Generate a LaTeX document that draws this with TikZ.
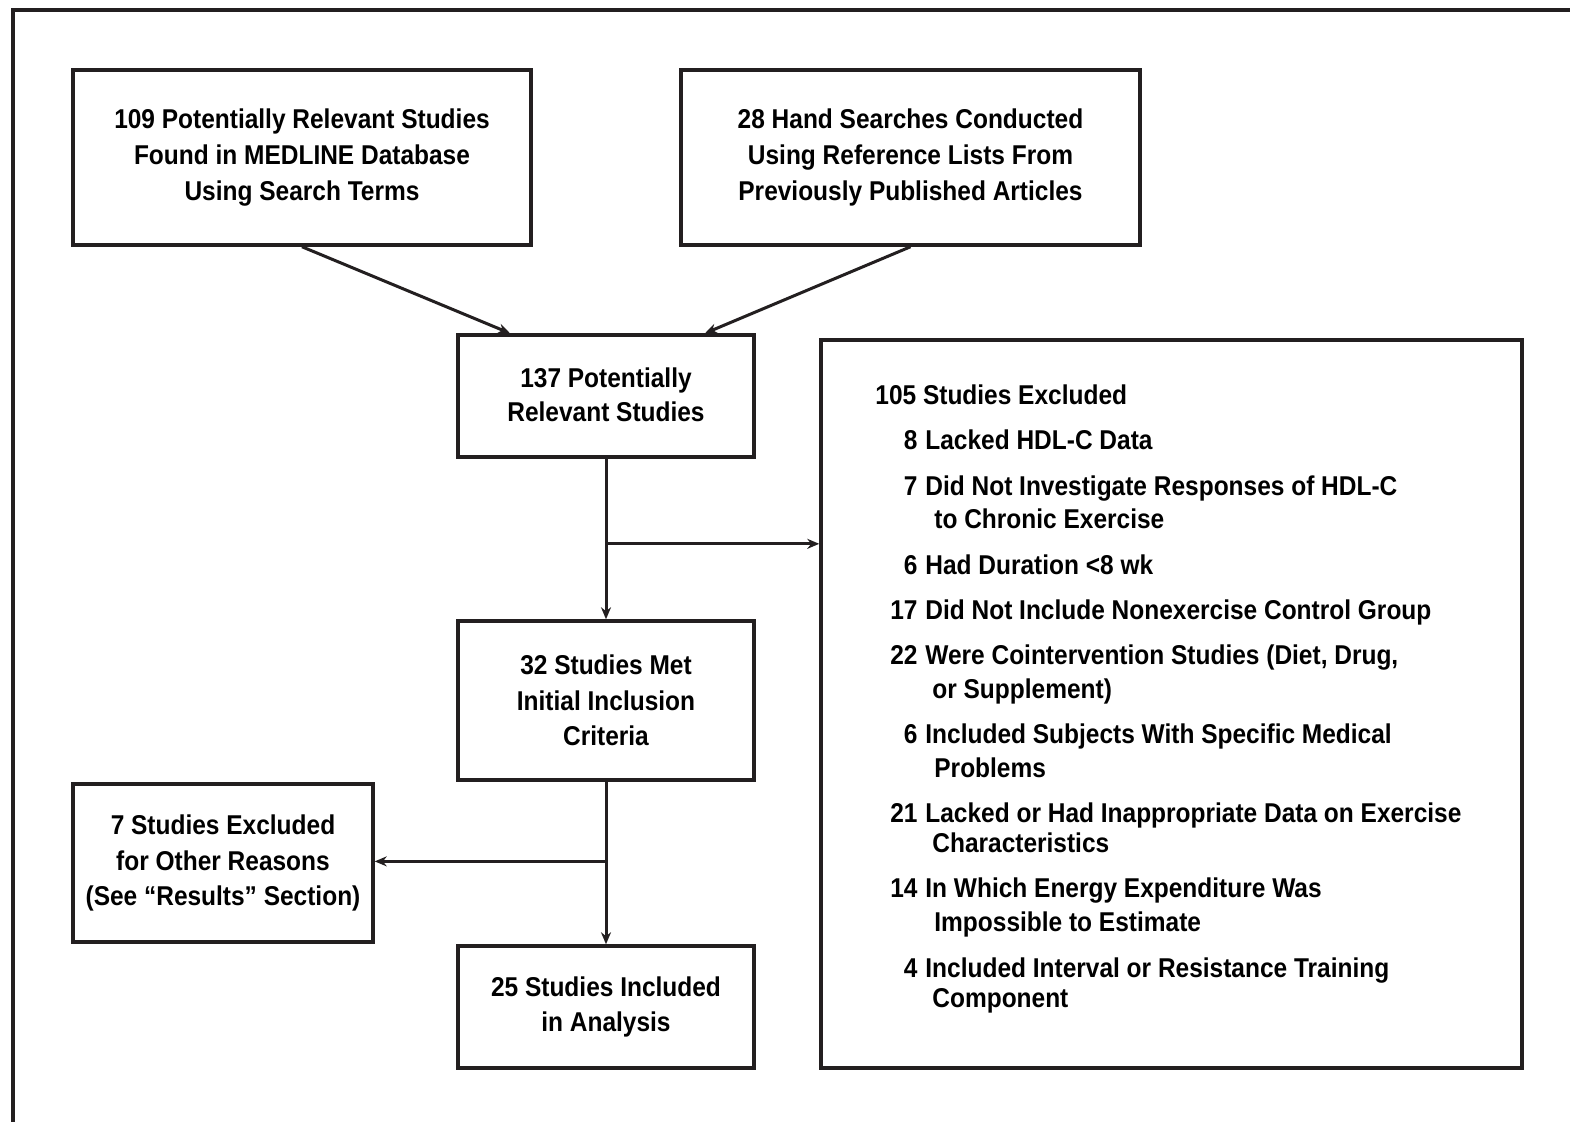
\documentclass[tikz,border=0pt]{standalone}
\usepackage{fontspec}
\setmainfont{Liberation Sans}
\newfontfamily\lab[FakeStretch=0.9]{Liberation Sans}
\usetikzlibrary{arrows.meta,calc}
\definecolor{ink}{HTML}{231F20}
\begin{document}
\begin{tikzpicture}[x=0.5pt,y=-0.5pt,
  boxshape/.style={draw=ink,line width=1.75pt,inner sep=0pt},
  boxtext/.style={align=center,font=\lab\bfseries\fontsize{13.6}{17.8}\selectfont},
  item/.style={inner sep=0pt,anchor=base west,font=\lab\bfseries\fontsize{13.6}{17.8}\selectfont},
  num/.style={inner sep=0pt,anchor=base east,font=\lab\bfseries\fontsize{13.6}{17.8}\selectfont},
  conn/.style={draw=ink,line width=1.5pt},
  arr/.style={conn,-{Stealth[length=6pt,width=5pt]}}]
\useasboundingbox (0,0) rectangle (1570,1121);
\fill[white] (0,0) rectangle (1570,1121);
\draw[ink,line width=2pt] (13,1125) -- (13,10) -- (1575,10);

\node[boxshape,minimum width=229pt,minimum height=87.5pt] (A) at (302,157.5) {};
\node[boxtext] (At) at (A) {109 Potentially Relevant Studies\\Found in MEDLINE Database\\Using Search Terms};

\node[boxshape,minimum width=229.5pt,minimum height=87.5pt] (B) at (910.5,157.5) {};
\node[boxtext] (Bt) at (B) {28 Hand Searches Conducted\\Using Reference Lists From\\Previously Published Articles};

\node[boxshape,minimum width=148pt,minimum height=61pt] (C) at (606,396) {};
\node[boxtext,font=\lab\bfseries\fontsize{13.6}{17}\selectfont] (Ct) at ($(C)+(0,-1)$) {137 Potentially\\Relevant Studies};

\node[boxshape,minimum width=350.5pt,minimum height=364pt] (D) at (1171.5,704) {};

\node[boxshape,minimum width=148pt,minimum height=79.5pt] (E) at (606,700.5) {};
\node[boxtext] (Et) at (E) {32 Studies Met\\Initial Inclusion\\Criteria};

\node[boxshape,minimum width=150pt,minimum height=79pt] (F) at (223,863) {};
\node[boxtext] (Ft) at (F) {7 Studies Excluded\\for Other Reasons\\(See “Results” Section)};

\node[boxshape,minimum width=148pt,minimum height=61pt] (G) at (606,1007) {};
\node[boxtext] (Gt) at (G) {25 Studies Included\\in Analysis};

% exclusion list
\node[item] (t0) at (875,404) {105 Studies Excluded};
\node[num] (n1) at (918,449) {8}; \node[item] (t1) at (925,449) {Lacked HDL-C Data};
\node[num] (n2) at (918,495) {7}; \node[item] (t2) at (925,495) {Did Not Investigate Responses of HDL-C};
\node[item] (t2b) at (934,528) {to Chronic Exercise};
\node[num] (n3) at (918,574) {6}; \node[item] (t3) at (925,574) {Had Duration \textless 8 wk};
\node[num] (n4) at (918,619) {17}; \node[item] (t4) at (925,619) {Did Not Include Nonexercise Control Group};
\node[num] (n5) at (918,664) {22}; \node[item] (t5) at (925,664) {Were Cointervention Studies (Diet, Drug,};
\node[item] (t5b) at (932,698) {or Supplement)};
\node[num] (n6) at (918,743) {6}; \node[item] (t6) at (925,743) {Included Subjects With Specific Medical};
\node[item] (t6b) at (934,777) {Problems};
\node[num] (n7) at (918,822) {21}; \node[item] (t7) at (925,822) {Lacked or Had Inappropriate Data on Exercise};
\node[item] (t7b) at (932,852) {Characteristics};
\node[num] (n8) at (918,897) {14}; \node[item] (t8) at (925,897) {In Which Energy Expenditure Was};
\node[item] (t8b) at (934,931) {Impossible to Estimate};
\node[num] (n9) at (918,977) {4}; \node[item] (t9) at (925,977) {Included Interval or Resistance Training};
\node[item] (t9b) at (932,1007) {Component};

% connectors
\draw[arr] (A.south) -- ($(C.north)+(-96,0)$);
\draw[arr] (B.south) -- ($(C.north)+(99,0)$);
\coordinate (j1) at ($(C.south)!0.53!(E.north)$);
\draw[arr] (C.south) -- (E.north);
\draw[arr] (j1) -- (j1 -| D.west);
\coordinate (j2) at ($(E.south)!0.49!(G.north)$);
\draw[arr] (E.south) -- (G.north);
\draw[arr] (j2) -- (j2 -| F.east);
\end{tikzpicture}
\end{document}
